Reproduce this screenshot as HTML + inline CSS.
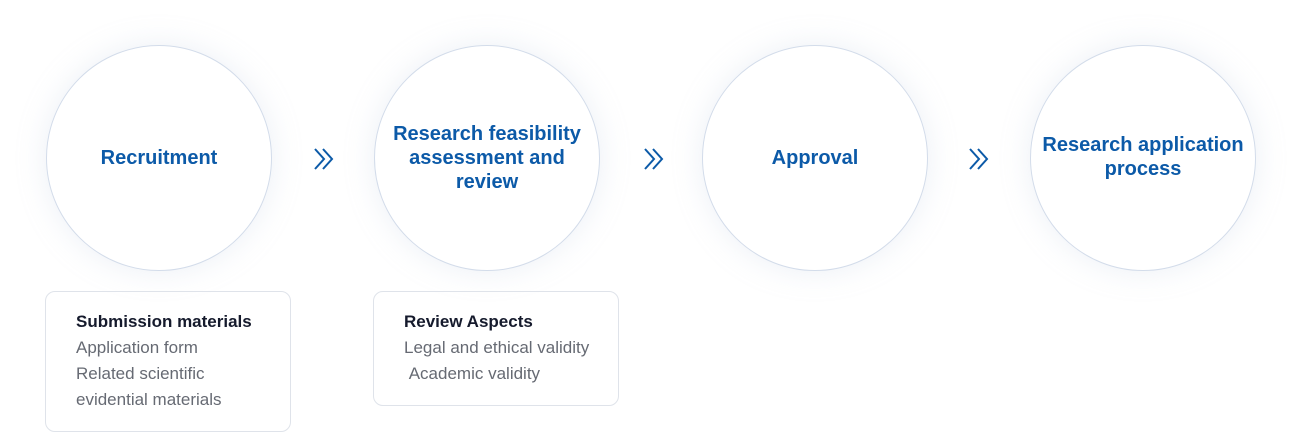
<!DOCTYPE html>
<html><head><style>
body{margin:0;width:1302px;height:433px;background:#fff;font-family:"Liberation Sans",sans-serif;position:relative;overflow:hidden}
.c{position:absolute;width:226px;height:226px;border-radius:50%;border:1px solid #d3dcea;box-shadow:0 0 30px rgba(180,195,220,0.25);display:flex;align-items:center;justify-content:center;text-align:center;color:#0c5aa8;font-weight:bold;font-size:20px;line-height:24px;box-sizing:border-box;background:#fff}
.b{position:absolute;border:1px solid #dfe3ea;border-radius:10px;box-sizing:border-box;padding:17px 0 0 30px;font-size:17px;line-height:26px;color:#666a73}
.b b{color:#151a2c;font-size:17px}
svg{position:absolute}
</style></head><body>
<div class="c" style="left:46px;top:45px">Recruitment</div>
<div class="c" style="left:374px;top:45px;padding:0 10px">Research feasibility assessment and review</div>
<div class="c" style="left:702px;top:45px">Approval</div>
<div class="c" style="left:1030px;top:45px;padding:0 8px;padding-bottom:2px">Research application process</div>
<svg style="left:312px;top:146px" width="24" height="26"><path d="M3 3l9 10-9 10M11 3l9 10-9 10" fill="none" stroke="#0c5aa8" stroke-width="2"/></svg>
<svg style="left:642px;top:146px" width="24" height="26"><path d="M3 3l9 10-9 10M11 3l9 10-9 10" fill="none" stroke="#0c5aa8" stroke-width="2"/></svg>
<svg style="left:967px;top:146px" width="24" height="26"><path d="M3 3l9 10-9 10M11 3l9 10-9 10" fill="none" stroke="#0c5aa8" stroke-width="2"/></svg>
<div class="b" style="left:45px;top:291px;width:246px;height:141px"><b>Submission materials</b><br>Application form<br>Related scientific<br>evidential materials</div>
<div class="b" style="left:373px;top:291px;width:246px;height:115px"><b>Review Aspects</b><br>Legal and ethical validity<br>&nbsp;Academic validity</div>
</body></html>
